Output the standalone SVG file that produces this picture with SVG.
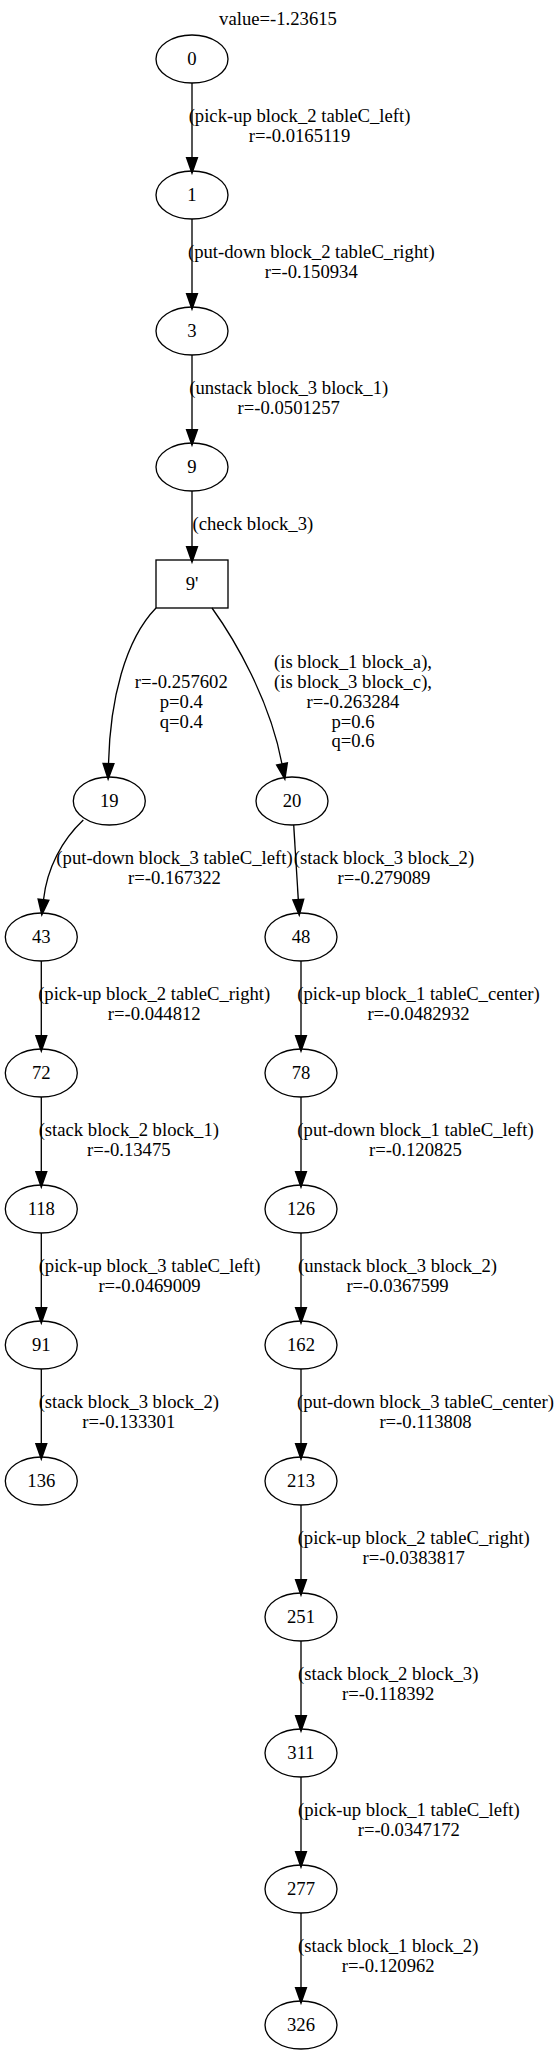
<svg xmlns="http://www.w3.org/2000/svg" width="556" height="2055" viewBox="0 0 556 2055">
<style>
text{font-family:"Liberation Serif","Times New Roman",serif;font-size:18.67px;fill:#000}
.n ellipse,.n rect{fill:none;stroke:#000;stroke-width:1.33}
.n text{text-anchor:middle}
.l text{text-anchor:middle}
.c path{fill:none;stroke:#000;stroke-width:1.33;marker-end:url(#ah)}
</style>
<defs>
<marker id="ah" markerUnits="userSpaceOnUse" markerWidth="16" markerHeight="12" refX="0" refY="4.67" orient="auto" viewBox="0 0 14 9.34" overflow="visible">
<path d="M0,0 L13.3,4.67 L0,9.34 z" fill="#000" stroke="#000" stroke-width="1.33"/>
</marker>
</defs>
<rect width="556" height="2055" fill="#fff"/>
<text x="278" y="25" text-anchor="middle">value=-1.23615</text>

<g id="connectors" class="c">
<path d="M192,83 V157.7"/>
<path d="M192,219 V293.7"/>
<path d="M192,355 V429.7"/>
<path d="M192,491 V546.7"/>
<path d="M156,608 C125,640 110,700 108.5,763.7"/>
<path d="M212,608 C235,640 270,700 282,764"/>
<path d="M83.3,820 C62,840 47,868 43.5,899.7"/>
<path d="M293.7,825 L298.3,899.7"/>
<path d="M41.3,961 V1035.7"/>
<path d="M41.3,1097 V1171.7"/>
<path d="M41.3,1233 V1307.7"/>
<path d="M41.3,1369 V1443.7"/>
<path d="M301,961 V1035.7"/>
<path d="M301,1097 V1171.7"/>
<path d="M301,1233 V1307.7"/>
<path d="M301,1369 V1443.7"/>
<path d="M301,1505 V1579.7"/>
<path d="M301,1641 V1715.7"/>
<path d="M301,1777 V1851.7"/>
<path d="M301,1913 V1987.7"/>
</g>

<g id="edge-labels" class="l">
<text x="299.5" y="121.7">(pick-up block_2 tableC_left)</text>
<text x="299.5" y="141.5">r=-0.0165119</text>
<text x="311.3" y="257.7">(put-down block_2 tableC_right)</text>
<text x="311.3" y="277.5">r=-0.150934</text>
<text x="288.7" y="393.7">(unstack block_3 block_1)</text>
<text x="288.7" y="413.5">r=-0.0501257</text>
<text x="192.5" y="530" text-anchor="start" style="text-anchor:start">(check block_3)</text>
<text x="181.3" y="688">r=-0.257602</text>
<text x="181.3" y="707.8">p=0.4</text>
<text x="181.3" y="727.6">q=0.4</text>
<text x="353" y="668.2">(is block_1 block_a),</text>
<text x="353" y="688">(is block_3 block_c),</text>
<text x="353" y="707.8">r=-0.263284</text>
<text x="353" y="727.6">p=0.6</text>
<text x="353" y="747.4">q=0.6</text>
<text x="174.5" y="863.7">(put-down block_3 tableC_left)</text>
<text x="174.5" y="883.5">r=-0.167322</text>
<text x="384" y="863.7">(stack block_3 block_2)</text>
<text x="384" y="883.5">r=-0.279089</text>
<text x="154.2" y="999.7">(pick-up block_2 tableC_right)</text>
<text x="154.2" y="1019.5">r=-0.044812</text>
<text x="128.8" y="1135.7">(stack block_2 block_1)</text>
<text x="128.8" y="1155.5">r=-0.13475</text>
<text x="149.5" y="1271.7">(pick-up block_3 tableC_left)</text>
<text x="149.5" y="1291.5">r=-0.0469009</text>
<text x="128.8" y="1407.7">(stack block_3 block_2)</text>
<text x="128.8" y="1427.5">r=-0.133301</text>
<text x="418.5" y="999.7">(pick-up block_1 tableC_center)</text>
<text x="418.5" y="1019.5">r=-0.0482932</text>
<text x="415.5" y="1135.7">(put-down block_1 tableC_left)</text>
<text x="415.5" y="1155.5">r=-0.120825</text>
<text x="397.5" y="1271.7">(unstack block_3 block_2)</text>
<text x="397.5" y="1291.5">r=-0.0367599</text>
<text x="425.5" y="1407.7">(put-down block_3 tableC_center)</text>
<text x="425.5" y="1427.5">r=-0.113808</text>
<text x="413.7" y="1543.7">(pick-up block_2 tableC_right)</text>
<text x="413.7" y="1563.5">r=-0.0383817</text>
<text x="388.2" y="1679.7">(stack block_2 block_3)</text>
<text x="388.2" y="1699.5">r=-0.118392</text>
<text x="408.8" y="1815.7">(pick-up block_1 tableC_left)</text>
<text x="408.8" y="1835.5">r=-0.0347172</text>
<text x="388.2" y="1951.7">(stack block_1 block_2)</text>
<text x="388.2" y="1971.5">r=-0.120962</text>
</g>

<g id="n0" class="n"><ellipse cx="192" cy="59" rx="36" ry="24"/><text x="192" y="65">0</text></g>
<g id="n1" class="n"><ellipse cx="192" cy="195" rx="36" ry="24"/><text x="192" y="201">1</text></g>
<g id="n3" class="n"><ellipse cx="192" cy="331" rx="36" ry="24"/><text x="192" y="337">3</text></g>
<g id="n9" class="n"><ellipse cx="192" cy="467" rx="36" ry="24"/><text x="192" y="473">9</text></g>
<g id="n9p" class="n"><rect x="156" y="560" width="72" height="48"/><text x="192" y="590">9'</text></g>
<g id="n19" class="n"><ellipse cx="109.3" cy="801" rx="36" ry="24"/><text x="109.3" y="807">19</text></g>
<g id="n20" class="n"><ellipse cx="292" cy="801" rx="36" ry="24"/><text x="292" y="807">20</text></g>
<g id="n43" class="n"><ellipse cx="41.3" cy="937" rx="36" ry="24"/><text x="41.3" y="943">43</text></g>
<g id="n72" class="n"><ellipse cx="41.3" cy="1073" rx="36" ry="24"/><text x="41.3" y="1079">72</text></g>
<g id="n118" class="n"><ellipse cx="41.3" cy="1209" rx="36" ry="24"/><text x="41.3" y="1215">118</text></g>
<g id="n91" class="n"><ellipse cx="41.3" cy="1345" rx="36" ry="24"/><text x="41.3" y="1351">91</text></g>
<g id="n136" class="n"><ellipse cx="41.3" cy="1481" rx="36" ry="24"/><text x="41.3" y="1487">136</text></g>
<g id="n48" class="n"><ellipse cx="301" cy="937" rx="36" ry="24"/><text x="301" y="943">48</text></g>
<g id="n78" class="n"><ellipse cx="301" cy="1073" rx="36" ry="24"/><text x="301" y="1079">78</text></g>
<g id="n126" class="n"><ellipse cx="301" cy="1209" rx="36" ry="24"/><text x="301" y="1215">126</text></g>
<g id="n162" class="n"><ellipse cx="301" cy="1345" rx="36" ry="24"/><text x="301" y="1351">162</text></g>
<g id="n213" class="n"><ellipse cx="301" cy="1481" rx="36" ry="24"/><text x="301" y="1487">213</text></g>
<g id="n251" class="n"><ellipse cx="301" cy="1617" rx="36" ry="24"/><text x="301" y="1623">251</text></g>
<g id="n311" class="n"><ellipse cx="301" cy="1753" rx="36" ry="24"/><text x="301" y="1759">311</text></g>
<g id="n277" class="n"><ellipse cx="301" cy="1889" rx="36" ry="24"/><text x="301" y="1895">277</text></g>
<g id="n326" class="n"><ellipse cx="301" cy="2025" rx="36" ry="24"/><text x="301" y="2031">326</text></g>
</svg>
